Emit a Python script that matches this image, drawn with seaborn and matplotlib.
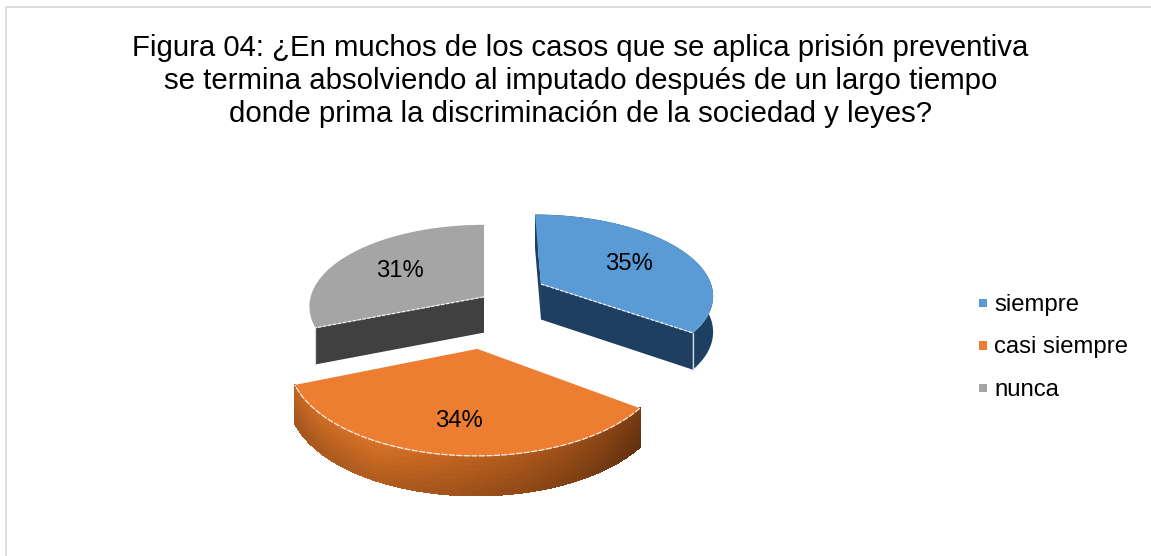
import numpy as np
import matplotlib
matplotlib.use("Agg")
import matplotlib.pyplot as plt
from matplotlib.collections import PolyCollection
from matplotlib.lines import Line2D
from matplotlib.patches import Polygon
import seaborn as sns

# Survey results
categories = ["siempre", "casi siempre", "nunca"]
percentages = [35, 34, 31]
title_lines = [
    "Figura 04: ¿En muchos de los casos que se aplica prisión preventiva",
    "se termina absolviendo al imputado después de un largo tiempo",
    "donde prima la discriminación de la sociedad y leyes?",
]

# Styling of the exploded pie
top_colors = ["#5B9BD5", "#ED7D31", "#A5A5A5"]
cut_colors = ["#1F3F62", None, "#404040"]
wall_colors = ["#1F3F62", None, "#FFFFFF"]
explode_u = [0.335, -0.036, 0.0]
explode_v = [-0.262, 0.50, -0.10]
label_radius = [0.61, 0.70, 0.61]
draw_order = [2, 0, 1]

# Perspective camera, in figure pixels
CX, CY = 484.0, 305.0
RX, RY = 175.4, 82.5
PERSP = 0.12
DEPTH = 36.0

sns.set_theme(style="white")
palette = sns.color_palette(top_colors)
plt.rcParams["font.family"] = ["Liberation Sans", "DejaVu Sans"]

fig = plt.figure(figsize=(11.51, 5.56), dpi=100)
ax = fig.add_axes([0, 0, 1, 1])
ax.set_xlim(0, 1151)
ax.set_ylim(556, 0)
ax.axis("off")


def project(u, v, drop=False):
    """Map pie-plane coordinates to pixels; drop=True gives the lower rim."""
    u, v = np.asarray(u, float), np.asarray(v, float)
    s = 1.0 / (1.0 - PERSP * v)
    x = CX + RX * u * s
    y = CY + RY * v * s
    if drop:
        y = y + DEPTH / (1.0 - 0.06 * v)
    return np.column_stack([x, y])


def blend(stops, t):
    stops = np.asarray(stops, float)
    pos = np.linspace(0, 1, len(stops))
    return np.array([np.interp(t, pos, stops[:, c]) for c in range(3)]) / 255.0


# Frame around the chart area
ax.add_line(Line2D([6, 6, 1151], [556, 6.5, 6.5], color="#DDDDDD", lw=1.4))

for k, line in enumerate(title_lines):
    ax.text(580.5, 55.5 + k * 33.5, line, ha="center", va="baseline",
            fontsize=21.15, color="black")

shares = np.array(percentages, float) / sum(percentages)
edges = np.concatenate([[0], np.cumsum(shares)]) * 2 * np.pi

orange_stops = [(188, 98, 34), (205, 108, 36), (165, 84, 26), (112, 55, 16)]

for i in draw_order:
    a0, a1 = edges[i], edges[i + 1]
    a = np.linspace(a0, a1, 160)
    eu, ev = explode_u[i], explode_v[i]
    ru, rv = eu + np.sin(a), ev - np.cos(a)
    rim_top = project(ru, rv)
    rim_low = project(ru, rv, drop=True)
    apex_top = project([eu], [ev])
    apex_low = project([eu], [ev], drop=True)

    # Outer curved wall
    if wall_colors[i] is None:
        quads, colours = [], []
        rows = 8
        for j in range(len(a) - 1):
            t = (a[j] - a0) / (a1 - a0)
            base = blend(orange_stops, 1 - t)
            for r in range(rows):
                f0, f1 = r / rows, (r + 1) / rows
                p00 = rim_top[j] + (rim_low[j] - rim_top[j]) * f0
                p01 = rim_top[j + 1] + (rim_low[j + 1] - rim_top[j + 1]) * f0
                p11 = rim_top[j + 1] + (rim_low[j + 1] - rim_top[j + 1]) * f1
                p10 = rim_top[j] + (rim_low[j] - rim_top[j]) * f1
                quads.append([p00, p01, p11, p10])
                colours.append(np.clip(base * (1.05 - 0.2 * f0), 0, 1))
        ax.add_collection(PolyCollection(quads, facecolors=colours, edgecolors=colours,
                                         linewidths=0.7, antialiaseds=False))
    else:
        ax.add_patch(Polygon(np.vstack([rim_top, rim_low[::-1]]), closed=True,
                             fc=wall_colors[i], ec="none"))

    # Radial cut faces, hidden behind the top on the front slice
    if cut_colors[i] is not None:
        for idx in (0, -1):
            ax.add_patch(Polygon(
                np.vstack([apex_top, rim_top[idx], rim_low[idx], apex_low]),
                closed=True, fc=cut_colors[i], ec="none"))

    # Top face with its thin highlighted edge
    outline = np.vstack([apex_top, rim_top])
    ax.add_patch(Polygon(outline, closed=True, fc=palette[i], ec="none"))
    if i == 1:
        ax.plot(rim_top[:, 0], rim_top[:, 1], color="white", lw=0.9,
                ls=(0, (5, 1)), alpha=0.9)
    else:
        cut = rim_top[-1] if i == 0 else rim_top[0]
        ax.plot([apex_top[0, 0], cut[0]], [apex_top[0, 1], cut[1]],
                color="white", lw=0.9, ls=(0, (3, 1)), alpha=0.9)
        low = rim_low[-1] if i == 0 else rim_low[0]
        ax.plot([cut[0], low[0]], [cut[1], low[1]], color="#D5DDE5", lw=0.9)

    # Value label
    mid = (a0 + a1) / 2
    pos = project([eu + label_radius[i] * np.sin(mid)],
                  [ev - label_radius[i] * np.cos(mid)])[0]
    ax.text(pos[0], pos[1] + 7, f"{percentages[i]}%", ha="center", va="baseline",
            fontsize=17.2, color="black", zorder=10)

# Legend: square keys with their names alongside
legend_x = [983] * len(categories)
legend_y = [303, 345.5, 388]
sns.scatterplot(x=legend_x, y=legend_y, hue=categories, hue_order=categories,
                palette=top_colors, marker="s", s=34, linewidth=0, legend=False,
                ax=ax, zorder=5)
for name, y in zip(categories, legend_y):
    ax.text(994, y + 7.5, name, ha="left", va="baseline", fontsize=17.2, color="black")

ax.set_xlim(0, 1151)
ax.set_ylim(556, 0)
sns.despine(ax=ax, left=True, bottom=True)
fig.savefig("out.png", dpi=100, facecolor="white")
